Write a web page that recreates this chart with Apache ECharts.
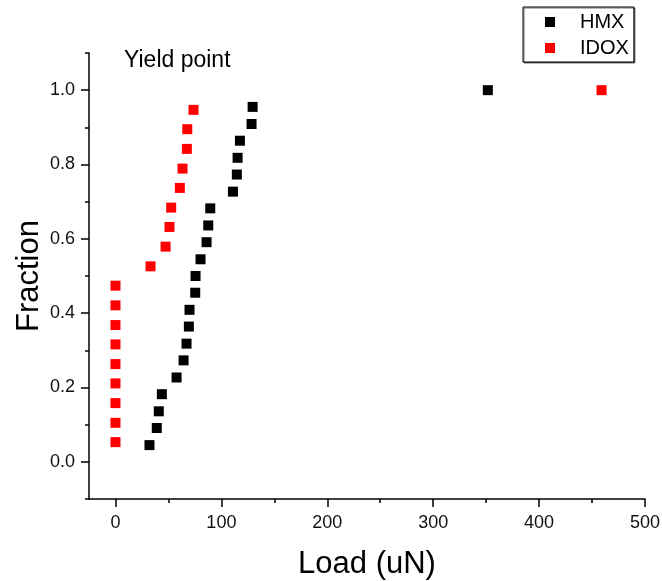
<!DOCTYPE html>
<html>
<head>
<meta charset="utf-8">
<title>Yield point</title>
<script src="https://cdn.jsdelivr.net/npm/echarts@6/dist/echarts.min.js"></script>
<style>
  html, body { margin: 0; padding: 0; background: #fff; }
  #chart { width: 662px; height: 581px; }
</style>
</head>
<body>
<div id="chart"></div>
<script>
// Cumulative fraction of indents that yielded, against the load at yield
const hmxLoad = [32.1, 39.0, 40.9, 43.8, 57.7, 64.3, 67.1, 69.3, 69.9, 75.3, 75.6,
                 80.3, 86.0, 87.6, 89.5, 110.9, 114.6, 115.3, 117.5, 128.5, 129.5, 351.6];
const hmxFraction = [0.045, 0.091, 0.136, 0.182, 0.227, 0.273, 0.318, 0.364, 0.409, 0.455, 0.5,
                     0.545, 0.591, 0.636, 0.682, 0.727, 0.773, 0.818, 0.864, 0.909, 0.955, 1.0];
const idoxLoad = [0, 0, 0, 0, 0, 0, 0, 0, 0,
                  33.1, 47.3, 51.0, 52.6, 60.8, 63.3, 67.4, 67.8, 73.7, 459];
const idoxFraction = [0.053, 0.105, 0.158, 0.211, 0.263, 0.316, 0.368, 0.421, 0.474,
                      0.526, 0.579, 0.632, 0.684, 0.737, 0.789, 0.842, 0.895, 0.947, 1.0];

const xMajorTicks = [0, 100, 200, 300, 400, 500];
const xMinorTicks = [50, 150, 250, 350, 450];
const yMajorTicks = [0, 0.2, 0.4, 0.6, 0.8, 1.0];
const yMinorTicks = [-0.1, 0.1, 0.3, 0.5, 0.7, 0.9, 1.1];

const FONT = '"Liberation Sans", Arial, Helvetica, sans-serif';
const toPairs = (xs, ys) => xs.map((x, i) => [x, ys[i]]);

const chart = echarts.init(document.getElementById('chart'), null, { renderer: 'canvas' });

const lineStyle = { color: '#000', width: 1.5 };

chart.setOption({
  backgroundColor: '#fff',
  animation: false,
  textStyle: { fontFamily: FONT },
  grid: { left: 89, right: 17, top: 53, bottom: 82, containLabel: false, outerBoundsMode: 'none' },
  legend: {
    orient: 'vertical',
    left: 523,
    top: 7,
    padding: [5, 5, 4, 22],
    itemGap: 6,
    itemWidth: 10,
    itemHeight: 10,
    backgroundColor: '#fff',
    borderColor: '#000',
    borderWidth: 1,
    shadowColor: 'rgba(0,0,0,0.55)',
    shadowOffsetX: 1,
    shadowOffsetY: 1,
    textStyle: { fontFamily: FONT, fontSize: 20, color: '#000', lineHeight: 20, padding: [0, 0, 0, 20] },
    data: [
      { name: 'HMX', icon: 'rect' },
      { name: 'IDOX', icon: 'rect' }
    ]
  },
  xAxis: [
    {
      type: 'value',
      min: -25,
      max: 500,
      position: 'bottom',
      name: 'Load (uN)',
      nameLocation: 'middle',
      nameGap: 50,
      nameMoveOverlap: false,
      nameTextStyle: { fontFamily: FONT, fontSize: 31, color: '#000' },
      axisLine: { show: true, onZero: false, lineStyle },
      axisTick: { show: true, inside: false, length: 8, customValues: xMajorTicks, lineStyle },
      axisLabel: { show: true, margin: 15, fontSize: 18, color: '#111', fontFamily: FONT, customValues: xMajorTicks },
      splitLine: { show: false }
    },
    {
      type: 'value',
      min: -25,
      max: 500,
      position: 'bottom',
      axisLine: { show: false, onZero: false },
      axisTick: { show: true, inside: false, length: 4, customValues: xMinorTicks, lineStyle },
      axisLabel: { show: false },
      splitLine: { show: false }
    }
  ],
  yAxis: [
    {
      type: 'value',
      min: -0.1,
      max: 1.1,
      position: 'left',
      name: 'Fraction',
      nameLocation: 'middle',
      nameGap: 44,
      nameMoveOverlap: false,
      nameTextStyle: { fontFamily: FONT, fontSize: 31, color: '#000' },
      axisLine: { show: true, onZero: false, lineStyle },
      axisTick: { show: true, inside: false, length: 8, customValues: yMajorTicks, lineStyle },
      axisLabel: {
        show: true, margin: 14, fontSize: 18, color: '#111', fontFamily: FONT,
        customValues: yMajorTicks,
        formatter: v => v.toFixed(1)
      },
      splitLine: { show: false }
    },
    {
      type: 'value',
      min: -0.1,
      max: 1.1,
      position: 'left',
      axisLine: { show: false, onZero: false },
      axisTick: { show: true, inside: false, length: 4, customValues: yMinorTicks, lineStyle },
      axisLabel: { show: false },
      splitLine: { show: false }
    }
  ],
  graphic: [
    {
      type: 'text',
      left: 124,
      top: 49,
      style: { text: 'Yield point', fontFamily: FONT, fontSize: 23, fill: '#000' }
    }
  ],
  series: [
    {
      name: 'HMX',
      type: 'scatter',
      xAxisIndex: 0,
      yAxisIndex: 0,
      symbol: 'rect',
      symbolSize: 10,
      itemStyle: { color: '#000', opacity: 1 },
      data: toPairs(hmxLoad, hmxFraction)
    },
    {
      name: 'IDOX',
      type: 'scatter',
      xAxisIndex: 0,
      yAxisIndex: 0,
      symbol: 'rect',
      symbolSize: 10,
      itemStyle: { color: '#ff0000', opacity: 1 },
      data: toPairs(idoxLoad, idoxFraction)
    }
  ]
});
</script>
</body>
</html>
